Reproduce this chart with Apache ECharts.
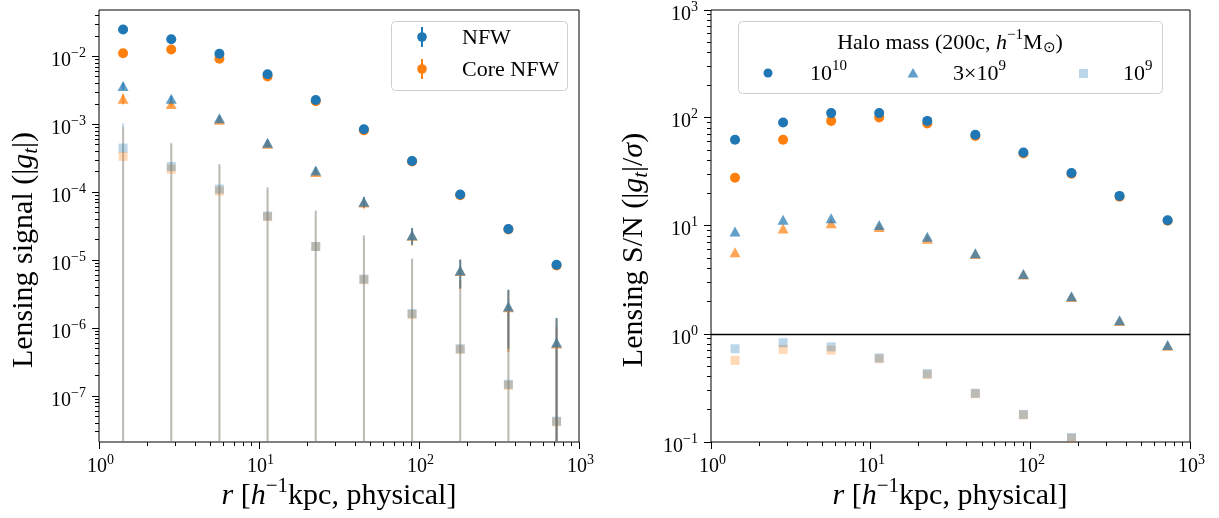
<!DOCTYPE html>
<html>
<head>
<meta charset="utf-8">
<script src="https://cdn.jsdelivr.net/npm/echarts@6/dist/echarts.min.js"></script>
<style>html,body{margin:0;padding:0;background:#fff}#c{width:1219px;height:518px}</style>
</head>
<body>
<div id="c"></div>
<script>
// ---------------- data ----------------
const radius = [1.414, 2.828, 5.657, 11.31, 22.63, 45.25, 90.51, 181.0, 362.0, 724.1];

// Left panel: lensing signal |g_t|
const signalNFW_1e10  = [0.025, 0.018, 0.011, 0.0055, 0.0023, 8.5e-4, 2.9e-4, 9.3e-5, 2.9e-5, 8.6e-6];
const signalCore_1e10 = [0.0112, 0.0127, 0.0093, 0.0051, 0.0022, 8.2e-4, 2.85e-4, 9.1e-5, 2.85e-5, 8.4e-6];
const signalNFW_3e9   = [0.0037, 0.0024, 0.00124, 5.4e-4, 2.1e-4, 7.3e-5, 2.35e-5, 7.1e-6, 2.1e-6, 6.2e-7];
const signalCore_3e9  = [0.0024, 0.0020, 0.00117, 5.2e-4, 2.0e-4, 7.1e-5, 2.3e-5, 7.0e-6, 2.05e-6, 6.0e-7];
const signalNFW_1e9   = [4.5e-4, 2.4e-4, 1.12e-4, 4.5e-5, 1.6e-5, 5.3e-6, 1.65e-6, 5.0e-7, 1.5e-7, 4.3e-8];
const signalCore_1e9  = [3.4e-4, 2.2e-4, 1.05e-4, 4.4e-5, 1.6e-5, 5.2e-6, 1.6e-6, 4.9e-7, 1.45e-7, 4.2e-8];

// error (sigma) per halo mass
const sigma_1e10 = [4.0e-4, 2.0e-4, 1.0e-4, 5.0e-5, 2.4e-5, 1.2e-5, 6.0e-6, 3.0e-6, 1.5e-6, 7.6e-7];
const sigma_3e9  = [4.2e-4, 2.1e-4, 1.05e-4, 5.3e-5, 2.6e-5, 1.3e-5, 6.5e-6, 3.2e-6, 1.6e-6, 8.0e-7];
const sigma_1e9  = [5.8e-4, 3.0e-4, 1.5e-4, 7.4e-5, 3.8e-5, 1.8e-5, 9.0e-6, 4.5e-6, 2.0e-6, 1.0e-6];

// Right panel: S/N
const snNFW_1e10  = [63, 91, 111, 111, 94, 70, 48, 31, 19, 11.3];
const snCore_1e10 = [28, 63, 94, 101, 89, 68, 47, 30.5, 18.7, 11.2];
const snNFW_3e9   = [8.9, 11.4, 11.8, 10.2, 7.95, 5.6, 3.6, 2.24, 1.34, 0.79];
const snCore_3e9  = [5.7, 9.5, 10.6, 9.8, 7.6, 5.5, 3.55, 2.2, 1.32, 0.78];
const snNFW_1e9   = [0.73, 0.83, 0.76, 0.60, 0.43, 0.283, 0.18, 0.11, null, null];
const snCore_1e9  = [0.57, 0.72, 0.71, 0.59, 0.42, 0.28, 0.178, 0.108, null, null];

// tick labels (major ticks)
const xTicks = [1, 10, 100, 1000];
const leftYTicks = [1e-7, 1e-6, 1e-5, 1e-4, 1e-3, 1e-2];
const rightYTicks = [0.1, 1, 10, 100, 1000];

// ---------------- styling ----------------
const FONT = '"Liberation Serif", "Times New Roman", serif';
const C0 = '#1f77b4', C1 = '#ff7f0e';
const X_MIN = 1, X_MAX = 1000;
const YL_MIN = Math.pow(10, -7.673), YL_MAX = Math.pow(10, -1.315);
const YR_MIN = 0.1, YR_MAX = 1000;

function rgba(hex, a) {
  const n = parseInt(hex.slice(1), 16);
  return 'rgba(' + (n >> 16 & 255) + ',' + (n >> 8 & 255) + ',' + (n & 255) + ',' + a + ')';
}
function pts(vals) {
  const out = [];
  radius.forEach((r, i) => { if (vals[i] != null) out.push([r, vals[i]]); });
  return out;
}
function ptsErr(vals, sig) {
  return radius.map((r, i) => [r, vals[i], sig[i]]);
}

const tickRich = {
  b: { fontFamily: FONT, fontSize: 20, fill: '#000', verticalAlign: 'middle' },
  s: { fontFamily: FONT, fontSize: 14, fill: '#000', verticalAlign: 'middle', padding: [0, 0, 14, 0] }
};
function powLabel(v) {
  const e = Math.round(Math.log10(v));
  return '{b|10}{s|' + (e < 0 ? '\u2212' + (-e) : String(e)) + '}';
}
function minors(lo, hi) {
  const out = [];
  for (let d = Math.floor(Math.log10(lo)); d <= Math.ceil(Math.log10(hi)); d++) {
    for (let k = 2; k <= 9; k++) {
      const v = k * Math.pow(10, d);
      if (v >= lo && v <= hi) out.push(v);
    }
  }
  return out;
}
function crisp(v) { return Math.round(v - 0.5) + 0.5; }

function axisDecor(gi, yMin, yMax, yTicks) {
  return {
    type: 'custom', xAxisIndex: gi, yAxisIndex: gi, silent: true, clip: false, z: 10,
    data: [[X_MIN, yTicks[1]]],
    renderItem(params, api) {
      const cs = params.coordSys;
      const bottom = cs.y + cs.height, left = cs.x;
      const kids = [];
      const line = (x1, y1, x2, y2) => kids.push({ type: 'line', shape: { x1, y1, x2, y2 }, style: { stroke: '#000', lineWidth: 1 } });
      minors(X_MIN, X_MAX).forEach(v => { const x = crisp(api.coord([v, yTicks[1]])[0]); line(x, bottom, x, bottom + 4); });
      xTicks.forEach(v => {
        const x = crisp(api.coord([v, yTicks[1]])[0]);
        line(x, bottom, x, bottom + 7);
        kids.push({ type: 'text', style: { text: powLabel(v), x: x + 1, y: bottom + 25, align: 'center', verticalAlign: 'middle', rich: tickRich } });
      });
      minors(yMin, yMax).forEach(v => { const y = crisp(api.coord([X_MIN, v])[1]); line(left - 4, y, left, y); });
      yTicks.forEach(v => {
        const y = crisp(api.coord([X_MIN, v])[1]);
        line(left - 7, y, left, y);
        kids.push({ type: 'text', style: { text: powLabel(v), x: left - 13, y: y + 4, align: 'right', verticalAlign: 'middle', rich: tickRich } });
      });
      return { type: 'group', children: kids };
    }
  };
}

function errSeries(gi, vals, sig, color, alpha, yMin) {
  return {
    type: 'custom', xAxisIndex: gi, yAxisIndex: gi, silent: true, clip: true, z: 2,
    data: ptsErr(vals, sig),
    renderItem(params, api) {
      const x = api.value(0), v = api.value(1), s = api.value(2);
      const top = api.coord([x, v + s]);
      const lo = (v - s) > yMin ? (v - s) : yMin;
      const bot = api.coord([x, lo]);
      return { type: 'line', shape: { x1: top[0], y1: top[1], x2: bot[0], y2: bot[1] },
               style: { stroke: rgba(color, alpha), lineWidth: 2 } };
    }
  };
}
function markSeries(gi, vals, color, alpha, symbol) {
  const size = symbol === 'circle' ? 10 : (symbol === 'triangle' ? [11, 10] : 9);
  return {
    type: 'scatter', xAxisIndex: gi, yAxisIndex: gi, silent: true, z: 3,
    symbol: symbol, symbolSize: size,
    itemStyle: { color: rgba(color, alpha), borderWidth: 0, opacity: 1 },
    data: pts(vals)
  };
}

const groups = [
  { nfw: signalNFW_1e10, core: signalCore_1e10, sig: sigma_1e10, snN: snNFW_1e10, snC: snCore_1e10, sym: 'circle', a: 1.0 },
  { nfw: signalNFW_3e9,  core: signalCore_3e9,  sig: sigma_3e9,  snN: snNFW_3e9,  snC: snCore_3e9,  sym: 'triangle', a: 0.7 },
  { nfw: signalNFW_1e9,  core: signalCore_1e9,  sig: sigma_1e9,  snN: snNFW_1e9,  snC: snCore_1e9,  sym: 'rect', a: 0.3 }
];

const series = [];
groups.forEach(g => {
  series.push(errSeries(0, g.core, g.sig, C1, g.a, YL_MIN));
  series.push(markSeries(0, g.core, C1, g.a, g.sym));
  series.push(errSeries(0, g.nfw, g.sig, C0, g.a, YL_MIN));
  series.push(markSeries(0, g.nfw, C0, g.a, g.sym));
});
groups.forEach(g => {
  series.push(markSeries(1, g.snC, C1, g.a, g.sym));
  series.push(markSeries(1, g.snN, C0, g.a, g.sym));
});
// horizontal reference line at S/N = 1
series[series.length - 1].markLine = {
  silent: true, symbol: 'none', animation: false, label: { show: false },
  lineStyle: { color: '#000', width: 1.3, type: 'solid' }, data: [{ yAxis: 1 }]
};
series.push(axisDecor(0, YL_MIN, YL_MAX, leftYTicks));
series.push(axisDecor(1, YR_MIN, YR_MAX, rightYTicks));

const hiddenAxis = { axisLine: { show: false }, axisTick: { show: false }, axisLabel: { show: false }, splitLine: { show: false } };

const titleRich = {
  i: { fontFamily: FONT, fontSize: 30, fontStyle: 'italic', fill: '#000', verticalAlign: 'middle' },
  s: { fontFamily: FONT, fontSize: 21, fill: '#000', verticalAlign: 'middle', padding: [0, 0, 20, 0] },
  t: { fontFamily: FONT, fontSize: 21, fontStyle: 'italic', fill: '#000', verticalAlign: 'middle', padding: [14, 0, 0, 0] },
  n: { fontFamily: FONT, fontSize: 30, fill: '#000', verticalAlign: 'middle' }
};
const legRich = {
  n: { fontFamily: FONT, fontSize: 22, fill: '#000', verticalAlign: 'middle' },
  i: { fontFamily: FONT, fontSize: 22, fontStyle: 'italic', fill: '#000', verticalAlign: 'middle' },
  s: { fontFamily: FONT, fontSize: 15, fill: '#000', verticalAlign: 'middle', padding: [0, 0, 15, 0] },
  d: { fontFamily: FONT, fontSize: 15, fill: '#000', verticalAlign: 'middle', padding: [10, 0, 0, 0] }
};

function txt(x, y, text, rich, align, rot) {
  return { type: 'text', x: x, y: y, rotation: rot || 0, silent: true, z: 20,
    style: { text: text, rich: rich, fontFamily: FONT, fontSize: 22, fill: '#000', align: align || 'left', verticalAlign: 'middle' } };
}

const graphic = [
  // axis titles
  txt(339, 496, '{i|r}{n| [}{i|h}{s|\u22121}{n|kpc, physical]}', titleRich, 'center'),
  txt(950, 496, '{i|r}{n| [}{i|h}{s|\u22121}{n|kpc, physical]}', titleRich, 'center'),
  txt(24, 250, '{n|Lensing signal (|}{i|g}{t|t}{n||)}', titleRich, 'center', Math.PI / 2),
  txt(634, 250, '{n|Lensing S/N (|}{i|g}{t|t}{n||/}{i|\u03c3}{n|)}', titleRich, 'center', Math.PI / 2),
  // left legend
  { type: 'rect', silent: true, z: 15, shape: { x: 391.5, y: 21.5, width: 176, height: 69, r: 4 },
    style: { fill: 'rgba(255,255,255,0.8)', stroke: '#d0d0d0', lineWidth: 1 } },
  { type: 'line', silent: true, z: 16, shape: { x1: 422, y1: 27, x2: 422, y2: 47 }, style: { stroke: C0, lineWidth: 2 } },
  { type: 'circle', silent: true, z: 16, shape: { cx: 422, cy: 37, r: 4.8 }, style: { fill: C0 } },
  txt(462, 38, '{n|NFW}', legRich),
  { type: 'line', silent: true, z: 16, shape: { x1: 422, y1: 59, x2: 422, y2: 79 }, style: { stroke: C1, lineWidth: 2 } },
  { type: 'circle', silent: true, z: 16, shape: { cx: 422, cy: 69, r: 4.8 }, style: { fill: C1 } },
  txt(462, 70, '{n|Core NFW}', legRich),
  // right legend
  { type: 'rect', silent: true, z: 15, shape: { x: 738.5, y: 21.5, width: 424, height: 72, r: 4 },
    style: { fill: 'rgba(255,255,255,0.8)', stroke: '#d0d0d0', lineWidth: 1 } },
  txt(950, 43, '{n|Halo mass (200c, }{i|h}{s|\u22121}{n|M}{d|\u2299}{n|)}', legRich, 'center'),
  { type: 'circle', silent: true, z: 16, shape: { cx: 768, cy: 73, r: 4.5 }, style: { fill: C0 } },
  txt(810, 74, '{n|10}{s|10}', legRich),
  { type: 'polygon', silent: true, z: 16, shape: { points: [[913, 68], [918.5, 77.5], [907.5, 77.5]] }, style: { fill: rgba(C0, 0.7) } },
  txt(953, 74, '{n|3\u00d710}{s|9}', legRich),
  { type: 'rect', silent: true, z: 16, shape: { x: 1079, y: 69, width: 9, height: 9 }, style: { fill: rgba(C0, 0.3) } },
  txt(1123, 74, '{n|10}{s|9}', legRich)
];

const option = {
  animation: false,
  backgroundColor: '#ffffff',
  grid: [
    { left: 99, top: 10, width: 480, height: 432, show: true, borderColor: '#000', borderWidth: 1, backgroundColor: 'transparent', containLabel: false, outerBoundsMode: 'none' },
    { left: 711, top: 10, width: 479, height: 432, show: true, borderColor: '#000', borderWidth: 1, backgroundColor: 'transparent', containLabel: false, outerBoundsMode: 'none' }
  ],
  xAxis: [
    Object.assign({ type: 'log', logBase: 10, gridIndex: 0, min: X_MIN, max: X_MAX }, hiddenAxis),
    Object.assign({ type: 'log', logBase: 10, gridIndex: 1, min: X_MIN, max: X_MAX }, hiddenAxis)
  ],
  yAxis: [
    Object.assign({ type: 'log', logBase: 10, gridIndex: 0, min: YL_MIN, max: YL_MAX }, hiddenAxis),
    Object.assign({ type: 'log', logBase: 10, gridIndex: 1, min: YR_MIN, max: YR_MAX }, hiddenAxis)
  ],
  graphic: graphic,
  series: series
};

const chart = echarts.init(document.getElementById('c'), null, { renderer: 'canvas', width: 1219, height: 518 });
chart.setOption(option);
</script>
</body>
</html>
